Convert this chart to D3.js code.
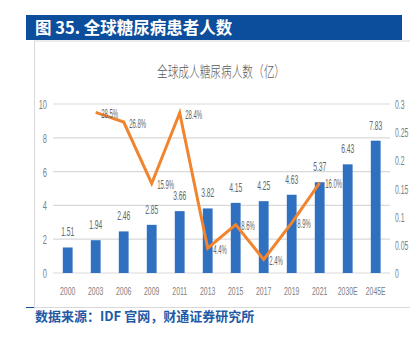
<!DOCTYPE html>
<html><head><meta charset="utf-8">
<script src="https://cdn.jsdelivr.net/npm/d3@7"></script>
<style>
html,body{margin:0;padding:0;background:#fff;}
svg{display:block;}
</style></head>
<body>
<svg id="c" width="419" height="337"></svg>
<script>
const categories = ["2000","2003","2006","2009","2011","2013","2015","2017","2019","2021","2030E","2045E"];
const patients = [1.51,1.94,2.46,2.85,3.66,3.82,4.15,4.25,4.63,5.37,6.43,7.83];
const growthYears = ["2003","2006","2009","2011","2013","2015","2017","2019","2021"];
const growth = [0.285,0.268,0.159,0.284,0.044,0.086,0.024,0.089,0.160];
const growthLabels = ["28.5%","26.8%","15.9%","28.4%","4.4%","8.6%","2.4%","8.9%","16.0%"];
const leftTicks = [0,2,4,6,8,10];
const rightTicks = [0,0.05,0.1,0.15,0.2,0.25,0.3];
const rightTickLabels = ["0","0.05","0.1","0.15","0.2","0.25","0.3"];

const svg = d3.select("#c");
const blue = "#0D4E9C";
const NUMFONT = "'Liberation Sans',Arial,sans-serif";

function condense(sel, f){
  sel.each(function(){
    const w = this.getComputedTextLength();
    d3.select(this).attr("textLength", w*f).attr("lengthAdjust","spacingAndGlyphs");
  });
}

// header bar
svg.append("rect").attr("x",26).attr("y",15).attr("width",376).attr("height",25).attr("fill",blue);
svg.append("text").attr("x",35).attr("y",33.5).attr("fill","#fff")
  .attr("font-family","'Noto Sans CJK SC',sans-serif").attr("font-weight","bold").attr("font-size",16.5)
  .text("图 35. 全球糖尿病患者人数");

// frame
svg.append("line").attr("x1",34).attr("x2",410).attr("y1",41).attr("y2",41).attr("stroke","#D9D9D9").attr("stroke-width",1);
svg.append("line").attr("x1",34.5).attr("x2",34.5).attr("y1",41).attr("y2",307).attr("stroke","#D9D9D9").attr("stroke-width",1);
svg.append("line").attr("x1",34).attr("x2",410).attr("y1",307.5).attr("y2",307.5).attr("stroke","#D9D9D9").attr("stroke-width",1);
svg.append("line").attr("x1",26).attr("x2",34).attr("y1",307.5).attr("y2",307.5).attr("stroke",blue).attr("stroke-width",1);

// chart title
svg.append("text").attr("x",221).attr("y",77).attr("text-anchor","middle").attr("fill","#595959")
  .attr("font-family","'Noto Sans CJK SC',sans-serif").attr("font-weight",300).attr("font-size",15)
  .attr("textLength",128).attr("lengthAdjust","spacingAndGlyphs")
  .text("全球成人糖尿病人数（亿）");

const x = d3.scaleBand().domain(categories).range([53.7,389.7]).paddingInner(0.65).paddingOuter(0.325);
const y = d3.scaleLinear().domain([0,10]).range([273,104]);
const y2 = d3.scaleLinear().domain([0,0.3]).range([273,104]);

// gridlines
svg.append("g").selectAll("line").data(leftTicks).join("line")
  .attr("x1",53).attr("x2",390).attr("y1",d=>y(d)).attr("y2",d=>y(d))
  .attr("stroke","#D9D9D9").attr("stroke-width",1.2);

const lab = "#808080";
// left axis
const gl = svg.append("g").attr("transform","translate(47,0)")
  .call(d3.axisLeft(y).tickValues(leftTicks).tickSize(0).tickPadding(0));
gl.select(".domain").remove();
gl.selectAll("text").attr("fill",lab).attr("font-size",12.5).attr("font-family",NUMFONT).attr("dy","0.36em");
condense(gl.selectAll("text"),0.6);
// right axis
const gr = svg.append("g").attr("transform","translate(395,0)")
  .call(d3.axisRight(y2).tickValues(rightTicks).tickFormat((d,i)=>rightTickLabels[i]).tickSize(0).tickPadding(0));
gr.select(".domain").remove();
gr.selectAll("text").attr("fill",lab).attr("font-size",12.5).attr("font-family",NUMFONT).attr("dy","0.36em");
condense(gr.selectAll("text"),0.55);
// bottom axis
const gb = svg.append("g").attr("transform","translate(0,287)")
  .call(d3.axisBottom(x).tickSize(0).tickPadding(0));
gb.select(".domain").remove();
gb.selectAll("text").attr("fill",lab).attr("font-size",11.5).attr("font-family",NUMFONT).attr("dy","0.71em");
condense(gb.selectAll("text"),0.6);

// bars
svg.append("g").selectAll("rect").data(patients).join("rect")
  .attr("x",(d,i)=>x(categories[i])).attr("width",x.bandwidth())
  .attr("y",d=>y(d)).attr("height",d=>y(0)-y(d)).attr("fill","#2F70C0");
const bl = svg.append("g").selectAll("text").data(patients).join("text")
  .attr("x",(d,i)=>x(categories[i])+x.bandwidth()/2).attr("y",d=>y(d)-11)
  .attr("text-anchor","middle").attr("fill","#666").attr("font-size",13.5).attr("font-family",NUMFONT)
  .text(d=>d.toFixed(2));
condense(bl,0.5);

// line
const cx = c => x(c)+x.bandwidth()/2;
const line = d3.line().x((d,i)=>cx(growthYears[i])).y(d=>y2(d));
svg.append("path").datum(growth).attr("d",line).attr("fill","none")
  .attr("stroke","#F0842F").attr("stroke-width",3).attr("stroke-linejoin","miter");
const ll = svg.append("g").selectAll("text").data(growth).join("text")
  .attr("x",(d,i)=>cx(growthYears[i])+5.5).attr("y",(d)=>y2(d)+5.5)
  .attr("fill","#666").attr("font-size",12.5).attr("font-family",NUMFONT)
  .text((d,i)=>growthLabels[i]);
condense(ll,0.48);

// source
svg.append("text").attr("x",35).attr("y",321).attr("fill","#1F5AA6")
  .attr("font-family","'Noto Sans CJK SC',sans-serif").attr("font-weight","bold").attr("font-size",13)
  .text("数据来源：IDF 官网，财通证券研究所");
</script>
</body></html>
